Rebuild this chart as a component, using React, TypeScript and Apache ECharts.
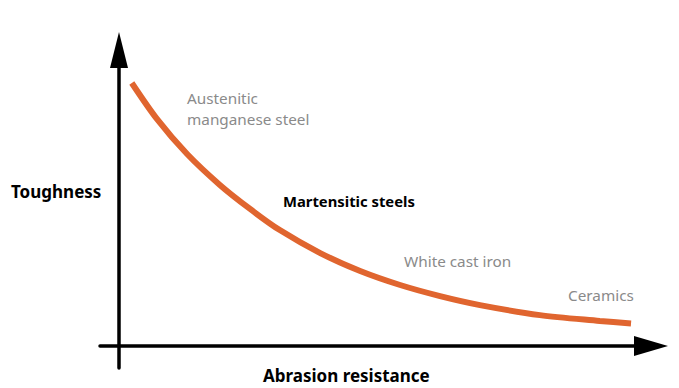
import React, { useEffect, useRef } from "react";
import * as echarts from "echarts";

// Curve: abrasion resistance (x, relative units) vs toughness (y, relative units)
const abrasion = [2.5, 7.4, 13.3, 19.7, 25.6, 31.4, 39.3, 47.1, 54.9, 62.7, 70.5, 82.2, 93.9, 100];
const toughness = [99.6, 86.0, 72.7, 61.0, 51.9, 43.9, 35.2, 28.4, 23.1, 18.9, 15.5, 11.7, 9.5, 8.5];

const xLabel = "Abrasion resistance";
const yLabel = "Toughness";
const materialLabels = ["Austenitic\nmanganese steel", "Martensitic steels", "White cast iron", "Ceramics"];

const FONT = "'Noto Sans', 'Open Sans', sans-serif";

export default function App() {
  const ref = useRef<HTMLDivElement>(null);
  useEffect(() => {
    if (!ref.current) return;
    const chart = echarts.init(ref.current, null, { renderer: "svg" });
    const data = abrasion.map((x, i) => [x, toughness[i]]);
    chart.setOption({
      animation: false,
      backgroundColor: "#ffffff",
      grid: { left: 100, right: 28, top: 50, bottom: 20 },
      xAxis: {
        type: "value",
        min: -3.71,
        max: 103.9,
        axisLine: {
          onZero: true,
          lineStyle: { color: "#000", width: 3.5 },
          symbol: ["none", "triangle"],
          symbolSize: [20, 34],
        },
        axisTick: { show: false },
        axisLabel: { show: false },
        splitLine: { show: false },
      },
      yAxis: {
        type: "value",
        min: -8.33,
        max: 112.1,
        axisLine: {
          show: true,
          onZero: true,
          lineStyle: { color: "#000", width: 3.5 },
          symbol: ["none", "triangle"],
          symbolSize: [18, 36],
        },
        axisTick: { show: false },
        axisLabel: { show: false },
        splitLine: { show: false },
      },
      series: [
        {
          type: "line",
          data,
          smooth: 0.3,
          showSymbol: false,
          lineStyle: { color: "#E0652F", width: 6, cap: "butt" },
        },
      ],
      graphic: [
        {
          type: "text",
          x: 187,
          y: 108,
          style: {
            text: materialLabels[0],
            font: `15.3px ${FONT}`,
            fill: "#8a8a8a",
            verticalAlign: "middle",
            lineHeight: 21,
          },
        },
        {
          type: "text",
          x: 283,
          y: 201,
          style: { text: materialLabels[1], font: `bold 14.8px ${FONT}`, fill: "#000", verticalAlign: "middle" },
        },
        {
          type: "text",
          x: 404,
          y: 261,
          style: { text: materialLabels[2], font: `15.3px ${FONT}`, fill: "#8a8a8a", verticalAlign: "middle" },
        },
        {
          type: "text",
          x: 568,
          y: 295,
          style: { text: materialLabels[3], font: `15.3px ${FONT}`, fill: "#8a8a8a", verticalAlign: "middle" },
        },
        {
          type: "text",
          x: 11,
          y: 191,
          style: { text: yLabel, font: `bold 17px ${FONT}`, fill: "#000", verticalAlign: "middle" },
        },
        {
          type: "text",
          x: 263,
          y: 375,
          style: { text: xLabel, font: `bold 17px ${FONT}`, fill: "#000", verticalAlign: "middle" },
        },
      ],
    });
    return () => chart.dispose();
  }, []);
  return <div ref={ref} style={{ width: 679, height: 388, position: "absolute", left: 0, top: 0 }} />;
}
